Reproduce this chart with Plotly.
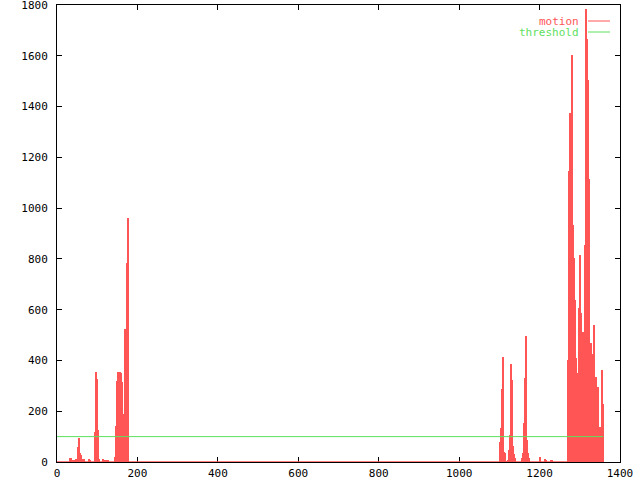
import plotly.graph_objects as go

# Motion per frame (only non-zero frames listed; all other frames are 0)
motion_frames = [
    33, 36, 40, 45, 48, 53, 55, 58, 60, 63, 66, 80, 83,
    95, 97, 99, 101, 105, 115, 120, 123, 126,
    144, 147, 149, 152, 154, 157, 159, 162, 164, 167, 169, 171, 174, 177,
    1101, 1103, 1106, 1108, 1111, 1113, 1116, 1121, 1123, 1126, 1128, 1131,
    1133, 1136, 1138, 1156, 1158, 1161, 1163, 1166, 1168, 1171, 1173,
    1201, 1213, 1216, 1228, 1231,
    1271, 1273, 1276, 1278, 1281, 1283, 1286, 1288, 1291, 1293, 1296, 1298,
    1301, 1303, 1306, 1308, 1311, 1313, 1316, 1317, 1318, 1321, 1323, 1326,
    1328, 1331, 1333, 1336, 1338, 1341, 1343, 1346, 1348, 1351, 1353, 1356, 1358,
]
motion_values = [
    17, 17, 4, 8, 10, 60, 96, 37, 27, 12, 10, 10, 4,
    119, 354, 327, 126, 10, 10, 4, 4, 4,
    21, 142, 319, 354, 114, 354, 350, 315, 146, 189, 524, 378, 785, 961,
    80, 134, 287, 415, 40, 36, 2, 5, 47, 106, 386, 323,
    63, 33, 14, 16, 36, 153, 329, 497, 86, 36, 17,
    20, 12, 8, 5, 5,
    402, 1146, 1374, 933, 1603, 933, 803, 638, 410, 67, 350, 608,
    815, 587, 402, 513, 114, 855, 1784, 1665, 1595, 1504, 1114, 114,
    468, 425, 382, 540, 272, 336, 232, 296, 139, 47, 139, 362, 230,
]
first_frame = 0
last_frame = 1358
threshold_value = 100

x_ticks = [0, 200, 400, 600, 800, 1000, 1200, 1400]
y_ticks = [0, 200, 400, 600, 800, 1000, 1200, 1400, 1600, 1800]

RED = "#ff5555"
GREEN = "#5ee05e"
FONT = "DejaVu Sans Mono"

fig = go.Figure()

# zero-valued frames drawn as a baseline
fig.add_trace(go.Scatter(
    x=[first_frame, last_frame], y=[0, 0], mode="lines",
    line=dict(color=RED, width=1.5), cliponaxis=False, showlegend=False,
    hoverinfo="skip"))

fig.add_trace(go.Bar(
    x=motion_frames, y=motion_values, width=2.6,
    marker=dict(color=RED, line=dict(width=0)), showlegend=False, name="motion"))

fig.add_trace(go.Scatter(
    x=[first_frame, last_frame], y=[threshold_value, threshold_value], mode="lines",
    line=dict(color=GREEN, width=1), showlegend=False, name="threshold"))

axis_common = dict(
    showgrid=False, zeroline=False, showline=True, linecolor="black", linewidth=1,
    mirror="allticks", ticks="inside", ticklen=5, tickcolor="black", tickwidth=1,
    tickfont=dict(family=FONT, size=11, color="black"), layer="below traces",
    automargin=False, ticklabeloverflow="allow",
)

fig.update_xaxes(range=[0, 1400], tickmode="array", tickvals=x_ticks,
                 ticklabelstandoff=1, **axis_common)
fig.update_yaxes(range=[0, 1800], tickmode="array", tickvals=y_ticks,
                 ticklabelstandoff=6, **axis_common)

# gnuplot-style key: text right-aligned, sample line to the right
def px_x(px):
    return (px - 57) / 563.0

def px_y(py):
    return (462 - py) / 457.0

for label, color, py in [("motion", RED, 21.5), ("threshold", GREEN, 32.5)]:
    fig.add_annotation(x=px_x(581), y=px_y(py), xref="paper", yref="paper",
                       text=label, showarrow=False, xanchor="right", yanchor="middle",
                       font=dict(family=FONT, size=11, color=color))
    fig.add_shape(type="line", xref="paper", yref="paper",
                  x0=px_x(588), x1=px_x(610), y0=px_y(py - 0.5), y1=px_y(py - 0.5),
                  line=dict(color=color, width=1))

fig.update_layout(
    width=640, height=480,
    margin=dict(l=57, r=20, t=5, b=18, autoexpand=False),
    paper_bgcolor="white", plot_bgcolor="white",
    bargap=0,
)

fig.write_html("out.html", config={"displayModeBar": False},
               post_script="document.body.style.margin='0px';")
